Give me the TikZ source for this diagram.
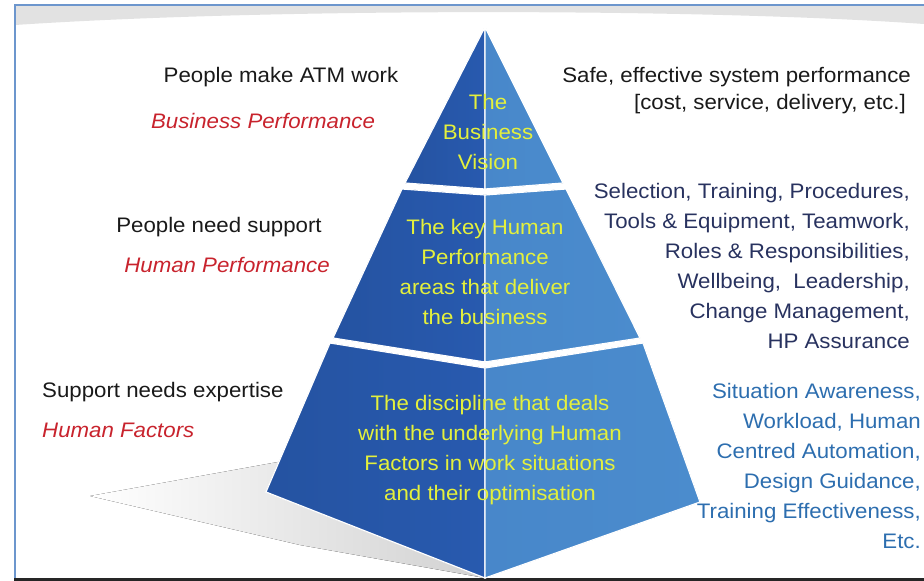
\documentclass[tikz,border=0pt]{standalone}
\usepackage{fontspec}
\setmainfont{Liberation Sans}[FakeStretch=1.06]
\usetikzlibrary{positioning}

\definecolor{frameblue}{RGB}{108,150,205}
\definecolor{bandgray}{RGB}{226,226,226}
\definecolor{faceleft}{RGB}{40,90,175}
\definecolor{faceright}{RGB}{75,140,205}
\definecolor{tieryellow}{RGB}{228,240,60}
\definecolor{areared}{RGB}{200,35,45}
\definecolor{hpnavy}{RGB}{40,50,95}
\definecolor{hfblue}{RGB}{45,110,175}
\definecolor{plaintext}{RGB}{25,25,25}

\begin{document}
\begin{tikzpicture}[x=1pt, y=-1pt,
    every node/.style={font=\fontsize{21}{30}\selectfont, inner sep=0pt, text=plaintext},
    areatext/.style={text=areared, font=\fontsize{21}{30}\selectfont\itshape},
    tiertext/.style={text=tieryellow, align=center},
    leftface/.style={left color=faceleft!92!black, right color=faceleft, draw=white, line width=1.2pt},
    rightface/.style={left color=faceright!90!faceleft, right color=faceright, draw=white, line width=1.2pt}]
  \useasboundingbox (0, 0) rectangle (924, 581);

  % frame and top band
  \fill[bandgray] (15, 6) -- (924, 6) -- (924, 24) .. controls (700, 8) and (270, 8) .. (15, 25) -- cycle;
  \draw[frameblue, line width=2.5pt] (14, 5) -- (924, 5);
  \draw[frameblue, line width=2pt] (15, 5) -- (15, 578);
  \draw[black!85, line width=3pt] (14, 579.5) -- (924, 579.5);

  % shadow
  \fill[left color=white, right color=black!18] (90, 496) -- (300, 458) -- (485, 578) -- (300, 545) -- cycle;

  % pyramid corners
  \coordinate (apex) at (485, 27);
  \coordinate (topl) at (405, 183);
  \coordinate (topc) at (485, 189);
  \coordinate (topr) at (563, 183);
  \coordinate (midtl) at (402, 189);
  \coordinate (midtc) at (485, 195);
  \coordinate (midtr) at (566, 189);
  \coordinate (midbl) at (333, 338);
  \coordinate (midbc) at (485, 362);
  \coordinate (midbr) at (640, 338);
  \coordinate (bottl) at (330, 343);
  \coordinate (bottc) at (485, 368);
  \coordinate (bottr) at (643, 343);
  \coordinate (basel) at (266, 492);
  \coordinate (basef) at (485, 578);
  \coordinate (baser) at (700, 502);

  % tiers
  \filldraw[leftface] (apex) -- (topl) -- (topc) -- cycle;
  \filldraw[rightface] (apex) -- (topc) -- (topr) -- cycle;
  \filldraw[leftface] (midtl) -- (midtc) -- (midbc) -- (midbl) -- cycle;
  \filldraw[rightface] (midtc) -- (midtr) -- (midbr) -- (midbc) -- cycle;
  \filldraw[leftface] (bottl) -- (bottc) -- (basef) -- (basel) -- cycle;
  \filldraw[rightface] (bottc) -- (bottr) -- (baser) -- (basef) -- cycle;

  \node[tiertext] at (488, 132) (vision) {The\\ Business\\ Vision};
  \node[tiertext] at (485, 272) (keyhp) {The key Human\\ Performance\\ areas that deliver\\ the business};
  \node[tiertext] at (490, 450) (discipline) {The discipline that deals\\ with the underlying Human\\ Factors in work situations\\ and their optimisation};

  % left side
  \node at (281, 77) (atm) {People make ATM work};
  \node[areatext] at (263, 121) (business) {Business Performance};
  \node at (219, 227) (support) {People need support};
  \node[areatext] at (227, 265) (hperf) {Human Performance};
  \node[anchor=west] at (42, 392) (expertise) {Support needs expertise};
  \node[areatext, anchor=west] at (42, 430) (hfactors) {Human Factors};

  % right side
  \node[anchor=east] at (911, 77) (safe) {Safe, effective system performance};
  \node[anchor=east] at (906, 104) (cost) {[cost, service, delivery, etc.]};
  \node[anchor=east, align=right, text=hpnavy] at (910, 266) (hpareas) {Selection, Training, Procedures,\\ Tools \& Equipment, Teamwork,\\ Roles \& Responsibilities,\\ Wellbeing,~ Leadership,\\ Change Management,\\ HP Assurance};
  \node[anchor=east, align=right, text=hfblue] at (921, 466) (hftopics) {Situation Awareness,\\ Workload, Human\\ Centred Automation,\\ Design Guidance,\\ Training Effectiveness,\\ Etc.};
\end{tikzpicture}
\end{document}
